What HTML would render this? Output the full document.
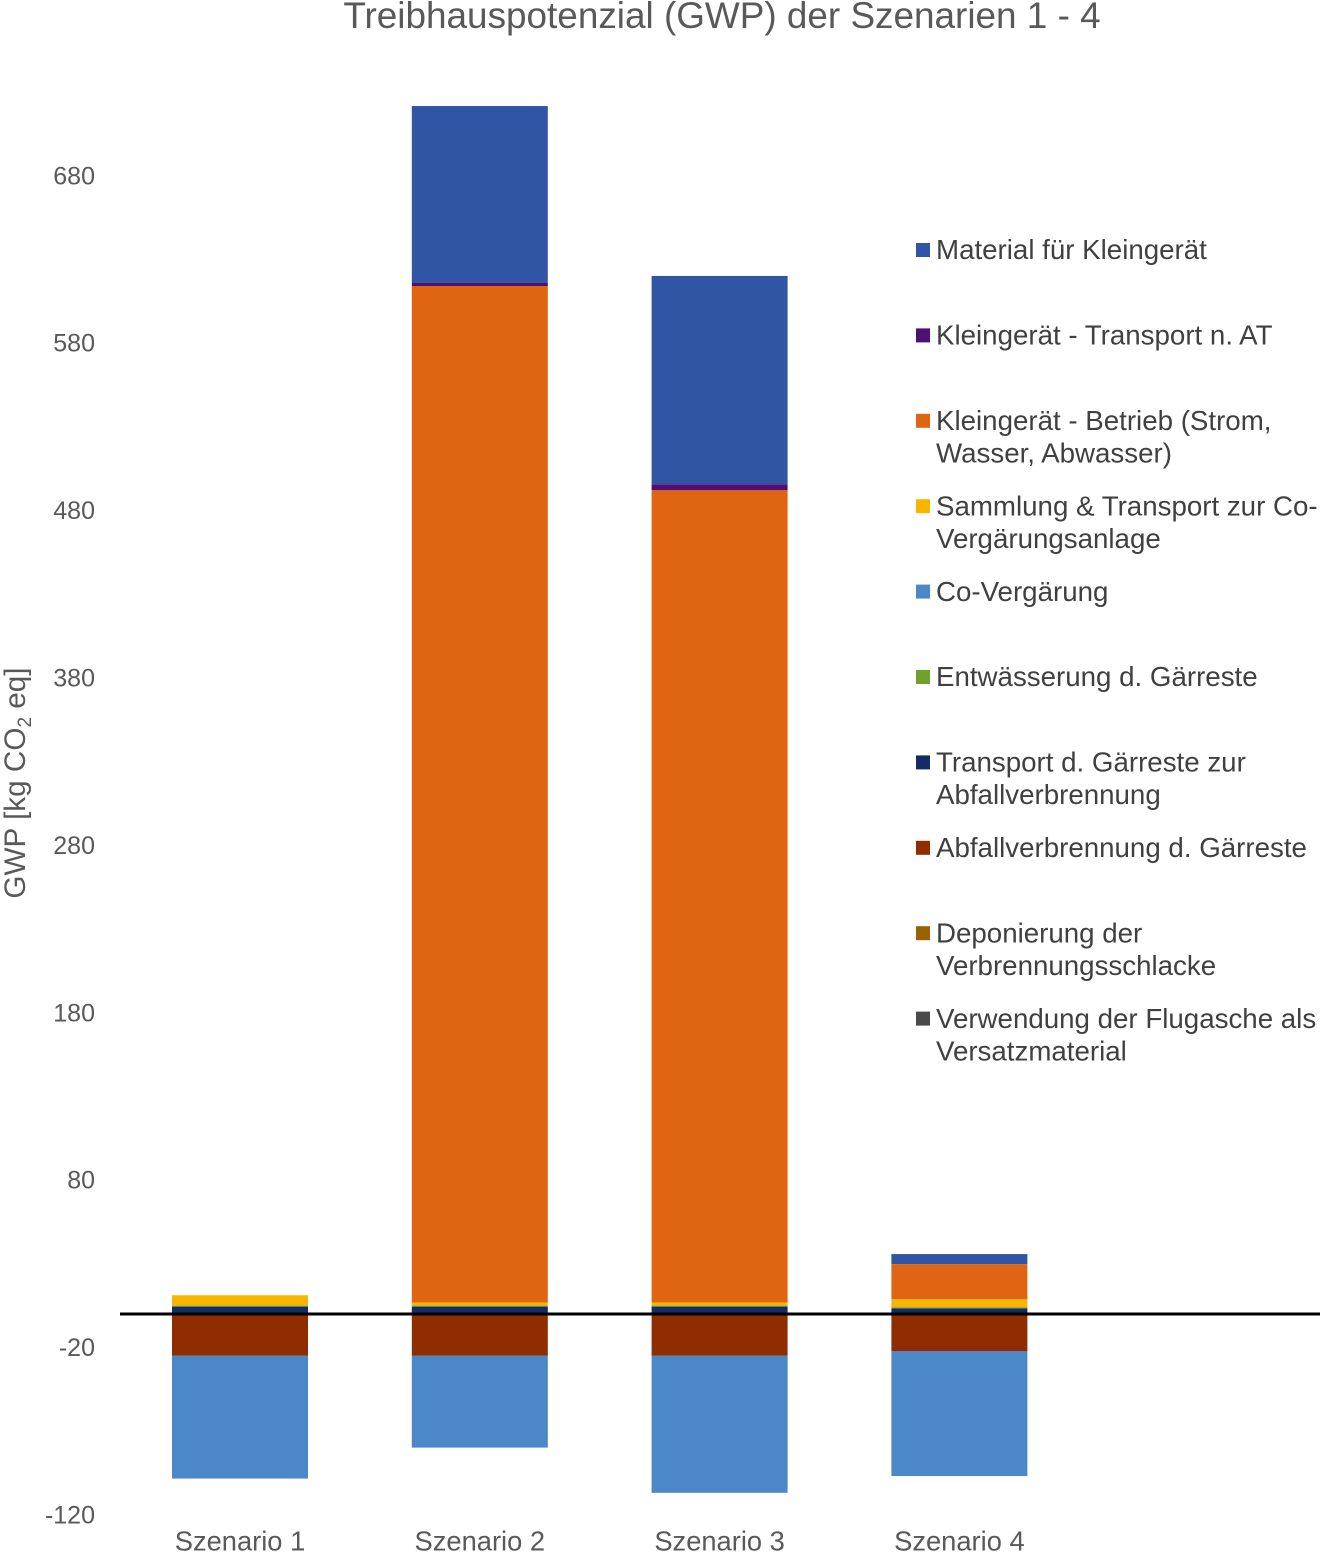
<!DOCTYPE html>
<html lang="de">
<head>
<meta charset="utf-8">
<title>Treibhauspotenzial (GWP) der Szenarien 1 - 4</title>
<style>
  html, body { margin: 0; padding: 0; background: #fff; }
  svg { display: block; font-family: "Liberation Sans", Arial, sans-serif; }
</style>
</head>
<body>
<svg id="chart" xmlns="http://www.w3.org/2000/svg" width="1323" height="1555" viewBox="0 0 1323 1555">
  <rect x="0" y="0" width="1323" height="1555" fill="#ffffff"/>
  <text x="722" y="28" text-anchor="middle" font-size="36.9" fill="#595959">Treibhauspotenzial (GWP) der Szenarien 1 - 4</text>
  <text transform="translate(25,783) rotate(-90)" text-anchor="middle" font-size="29.7" fill="#595959">GWP [kg CO<tspan font-size="19" dy="6">2</tspan><tspan dy="-6"> eq]</tspan></text>
  <g id="bars"></g>
  <g id="y-ticks"></g>
  <g id="x-ticks"></g>
  <g id="legend"></g>
</svg>
<script>
const categories = ['Szenario 1', 'Szenario 2', 'Szenario 3', 'Szenario 4'];
const yTickValues = [680, 580, 480, 380, 280, 180, 80, -20, -120];
const seriesNames = [
  'Material für Kleingerät',
  'Kleingerät - Transport n. AT',
  'Kleingerät - Betrieb (Strom,\nWasser, Abwasser)',
  'Sammlung & Transport zur Co-\nVergärungsanlage',
  'Co-Vergärung',
  'Entwässerung d. Gärreste',
  'Transport d. Gärreste zur\nAbfallverbrennung',
  'Abfallverbrennung d. Gärreste',
  'Deponierung der\nVerbrennungsschlacke',
  'Verwendung der Flugasche als\nVersatzmaterial'
];
const seriesColors = ['#2f55a4', '#4f0f73', '#e06512', '#f8b500', '#4c87c7', '#70a12a', '#142b66', '#8f2d00', '#996300', '#4a4a4a'];
const material = [0, 105.7, 124.4, 6];
const transportAT = [0, 1.8, 3.6, 0];
const betrieb = [0, 607.2, 485.2, 21];
const sammlung = [6.2, 1.9, 1.9, 4.9];
const coVergaerung = [-73.5, -55, -82, -74.7];
const entwaesserung = [0.6, 0.6, 0.6, 0.5];
const transportGaerreste = [4.4, 4.4, 4.4, 3.4];
const abfallverbrennung = [-24.8, -24.8, -24.8, -22.1];
const deponierung = [0, 0, 0, 0];
const flugasche = [0, 0, 0, 0];
const seriesValues = [material, transportAT, betrieb, sammlung, coVergaerung, entwaesserung, transportGaerreste, abfallverbrennung, deponierung, flugasche];

const NS = 'http://www.w3.org/2000/svg';
const zeroY = 1314;
const pxPerUnit = 1.674;
const firstBandCenter = 240;
const bandStep = 239.8;
const barWidth = 136;
const yScale = function (v) { return zeroY - v * pxPerUnit; };
const xScale = function (i) { return firstBandCenter + i * bandStep; };

function make(tag, attrs, parent) {
  const el = document.createElementNS(NS, tag);
  Object.keys(attrs).forEach(function (k) { el.setAttribute(k, attrs[k]); });
  parent.appendChild(el);
  return el;
}

const barsGroup = document.getElementById('bars');
categories.forEach(function (cat, c) {
  let up = 0;
  let down = 0;
  for (let s = seriesValues.length - 1; s >= 0; s--) {
    const v = seriesValues[s][c];
    if (v === 0) continue;
    const start = v > 0 ? up : down;
    const end = start + v;
    if (v > 0) { up = end; } else { down = end; }
    const rect = make('rect', {
      x: xScale(c) - barWidth / 2,
      y: Math.min(yScale(start), yScale(end)),
      width: barWidth,
      height: Math.abs(yScale(start) - yScale(end)),
      fill: seriesColors[s]
    }, barsGroup);
    
    
  }
});

const zeroLine = make('line', { x1: 120, x2: 1320, y1: yScale(0), y2: yScale(0), stroke: '#000000', 'stroke-width': 3 }, barsGroup);



const yTicksGroup = document.getElementById('y-ticks');
yTickValues.forEach(function (v) {
  const t = make('text', { x: 95, y: yScale(v) + 8.6, 'text-anchor': 'end', 'font-size': 25, fill: '#595959' }, yTicksGroup);
  
  
  t.textContent = String(v);
});

const xTicksGroup = document.getElementById('x-ticks');
categories.forEach(function (cat, c) {
  const t = make('text', { x: xScale(c), y: 1550.6, 'text-anchor': 'middle', 'font-size': 27.3, fill: '#595959' }, xTicksGroup);
  
  
  t.textContent = cat;
});

const legendGroup = document.getElementById('legend');
seriesNames.forEach(function (name, s) {
  const cy = 250 + s * 85.4;
  const entry = make('g', {}, legendGroup);
  
  
  const swatch = make('rect', { x: 916, y: cy - 7, width: 14, height: 14, fill: seriesColors[s] }, entry);
  
  
  name.split('\n').forEach(function (line, l) {
    const t = make('text', { x: 936, y: cy + 9.2 + l * 32.5, 'font-size': 27.7, fill: '#404040' }, entry);
    
    
    t.textContent = line;
  });
});
</script>
</body>
</html>
